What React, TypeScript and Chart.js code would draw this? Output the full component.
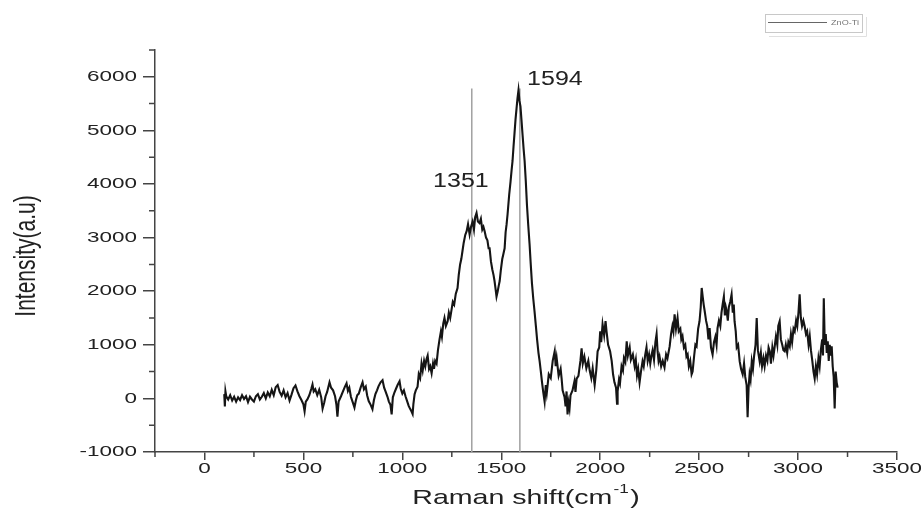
import React, { useEffect, useRef } from 'react';
import { Chart, registerables } from 'chart.js';

Chart.register(...registerables);

const seriesLabel = 'ZnO-Ti';

// Raman spectrum: [Raman shift (cm-1), intensity (a.u.)]
const spectrum: [number, number][] = [
  [100, 80], [103, -150], [106, 130], [110, 40], [120, -20], [130, 60], [140, -40], [150, 30], [160, -60], [170, 20],
  [180, -30], [190, 60], [200, -10], [210, 40], [220, -70], [230, 30], [240, -20], [250, -60], [260, 40], [270, 80],
  [280, -20], [290, 30], [300, 100], [310, 0], [320, 110], [330, 40], [340, 160], [350, 60], [360, 210], [370, 250],
  [380, 120], [390, 50], [400, 150], [410, 20], [420, 100], [430, -40], [440, 70], [450, 190], [460, 240], [470, 130],
  [480, 40], [490, -30], [500, -110], [506, -240], [512, -60], [520, -20], [530, 60], [540, 180], [546, 260], [552, 130],
  [560, 170], [570, 60], [580, 160], [590, 20], [597, -190], [605, -80], [612, 40], [620, 120], [632, 300], [640, 200],
  [650, 150], [660, 40], [667, -120], [672, -340], [678, -60], [690, 40], [700, 130], [710, 220], [718, 280], [725, 140],
  [732, 200], [740, 30], [750, -80], [758, -170], [765, -40], [772, 60], [780, 90], [790, 210], [799, 300], [806, 170],
  [815, 220], [822, 60], [830, -50], [840, -120], [849, -200], [856, -40], [864, 80], [872, 150], [880, 230], [890, 300],
  [900, 340], [908, 200], [916, 120], [925, 30], [932, -60], [940, -120], [946, -300], [952, 20], [960, 110], [968, 180],
  [976, 250], [986, 320], [992, 180], [1000, 90], [1008, 150], [1016, 40], [1025, -60], [1032, -140], [1040, -200], [1046, -240],
  [1052, -290], [1056, -100], [1062, 80], [1068, 150], [1077, 220], [1083, 450], [1090, 380], [1097, 650], [1103, 520], [1110, 700],
  [1116, 600], [1122, 730], [1128, 800], [1135, 550], [1141, 600], [1148, 470], [1155, 650], [1160, 550], [1166, 700], [1173, 650],
  [1180, 900], [1188, 1100], [1195, 1250], [1200, 1150], [1207, 1400], [1213, 1500], [1220, 1350], [1229, 1440], [1235, 1600], [1242, 1500],
  [1249, 1660], [1255, 1800], [1262, 1750], [1270, 1950], [1279, 2060], [1285, 2300], [1292, 2500], [1298, 2600], [1304, 2750], [1310, 2900],
  [1318, 3050], [1325, 3120], [1332, 3250], [1340, 3060], [1347, 3200], [1355, 3300], [1362, 3150], [1368, 3380], [1375, 3460], [1382, 3300],
  [1390, 3270], [1397, 3350], [1404, 3150], [1410, 3200], [1416, 3120], [1423, 3000], [1430, 2950], [1436, 2800], [1441, 2800], [1448, 2550],
  [1455, 2400], [1461, 2300], [1466, 2190], [1471, 2050], [1476, 1900], [1482, 2000], [1487, 2100], [1492, 2190], [1498, 2400], [1505, 2600],
  [1511, 2700], [1517, 2800], [1522, 3100], [1527, 3250], [1532, 3440], [1540, 3800], [1547, 4050], [1552, 4250], [1557, 4430], [1562, 4700],
  [1567, 4950], [1572, 5200], [1577, 5400], [1582, 5600], [1587, 5750], [1592, 5550], [1597, 5450], [1602, 5200], [1608, 4900], [1613, 4650],
  [1618, 4430], [1624, 4050], [1630, 3600], [1636, 3250], [1643, 2880], [1649, 2500], [1655, 2150], [1662, 1850], [1668, 1630], [1675, 1350],
  [1681, 1100], [1688, 850], [1694, 690], [1700, 500], [1706, 300], [1712, 120], [1719, -60], [1725, 250], [1730, 100], [1740, 450],
  [1750, 380], [1760, 700], [1770, 880], [1775, 600], [1780, 750], [1790, 420], [1800, 550], [1805, 370], [1810, 150], [1820, 20],
  [1825, -150], [1830, 130], [1835, -300], [1840, -80], [1845, -190], [1850, 60], [1860, 150], [1870, 320], [1875, 120], [1881, 370],
  [1890, 420], [1900, 700], [1906, 935], [1912, 650], [1920, 780], [1930, 560], [1940, 700], [1947, 520], [1955, 380], [1962, 560],
  [1972, 250], [1980, 520], [1987, 880], [1995, 950], [2000, 1250], [2005, 1050], [2012, 1380], [2020, 1180], [2027, 1440], [2032, 1250],
  [2040, 1000], [2050, 880], [2058, 700], [2065, 450], [2072, 300], [2080, 200], [2085, -100], [2088, 130], [2095, 350], [2100, 280],
  [2108, 600], [2115, 520], [2120, 750], [2127, 680], [2134, 1065], [2140, 800], [2149, 950], [2155, 720], [2165, 820], [2174, 600],
  [2180, 720], [2186, 430], [2192, 550], [2199, 300], [2206, 500], [2214, 690], [2220, 600], [2227, 800], [2234, 950], [2240, 700],
  [2247, 820], [2253, 650], [2259, 800], [2265, 900], [2272, 720], [2279, 1050], [2285, 1200], [2290, 880], [2295, 700], [2300, 780],
  [2308, 600], [2316, 700], [2325, 580], [2333, 820], [2340, 750], [2351, 970], [2358, 1200], [2365, 1350], [2370, 1250], [2376, 1570],
  [2383, 1300], [2391, 1500], [2397, 1250], [2405, 1300], [2410, 1100], [2416, 1160], [2423, 950], [2430, 1000], [2436, 780], [2442, 820],
  [2448, 600], [2455, 700], [2462, 450], [2467, 500], [2475, 800], [2481, 1000], [2487, 970], [2495, 1300], [2502, 1440], [2508, 1700],
  [2513, 2060], [2518, 1900], [2523, 1750], [2528, 1630], [2535, 1450], [2541, 1350], [2547, 1100], [2553, 1310], [2560, 950], [2568, 820],
  [2575, 1050], [2582, 1150], [2588, 1000], [2593, 1310], [2600, 1450], [2607, 1350], [2613, 1600], [2619, 1760], [2625, 1900], [2630, 1550],
  [2635, 1700], [2639, 1630], [2645, 1450], [2650, 1700], [2657, 1800], [2664, 1940], [2670, 1600], [2675, 1750], [2679, 1440], [2685, 1250],
  [2690, 950], [2697, 1000], [2705, 690], [2712, 550], [2720, 450], [2727, 650], [2733, 400], [2740, 250], [2745, -350], [2750, 200],
  [2755, 450], [2760, 350], [2766, 690], [2772, 550], [2778, 800], [2785, 1000], [2791, 1500], [2797, 900], [2806, 690], [2812, 850],
  [2818, 600], [2825, 750], [2831, 600], [2838, 800], [2845, 700], [2851, 950], [2857, 880], [2863, 650], [2870, 950], [2876, 800],
  [2882, 970], [2888, 1150], [2895, 1000], [2900, 1350], [2907, 1440], [2913, 1100], [2920, 1000], [2926, 900], [2932, 880], [2938, 1000],
  [2945, 850], [2951, 1050], [2958, 970], [2964, 1200], [2970, 1050], [2977, 1300], [2983, 1250], [2990, 1450], [2996, 1350], [3002, 1600],
  [3008, 1940], [3014, 1500], [3020, 1350], [3027, 1450], [3033, 1350], [3040, 1200], [3046, 1250], [3053, 1000], [3059, 1160], [3065, 900],
  [3072, 700], [3078, 500], [3084, 370], [3090, 600], [3096, 450], [3103, 750], [3109, 600], [3115, 900], [3122, 1100], [3126, 800],
  [3130, 1870], [3135, 1000], [3140, 1200], [3145, 850], [3150, 1065], [3155, 700], [3160, 1000], [3165, 800], [3170, 970], [3175, 600],
  [3180, 400], [3185, -190], [3190, 500], [3195, 300], [3200, 200],
];

const peakPositions = [1351, 1594];
const peakLabels = ['1351', '1594'];
const peakLineTop = 5780;

const xMin = -250;
const xMax = 3500;
const yMin = -1000;
const yMax = 6500;
const xTickValues = [0, 500, 1000, 1500, 2000, 2500, 3000, 3500];
const yTickValues = [-1000, 0, 1000, 2000, 3000, 4000, 5000, 6000];
const xMinorTicks = [-250, 250, 750, 1250, 1750, 2250, 2750, 3250];
const yMinorTicks = [-500, 500, 1500, 2500, 3500, 4500, 5500, 6500];

const xTitle = 'Raman shift(cm';
const xTitleSup = '-1';
const yTitle = 'Intensity(a.u)';

const FONT = "'Liberation Sans', Arial, Helvetica, sans-serif";

function drawText(
  ctx: CanvasRenderingContext2D,
  text: string,
  x: number,
  y: number,
  size: number,
  sx: number,
  align: CanvasTextAlign,
  color: string,
  rotate = 0,
) {
  ctx.save();
  ctx.translate(x, y);
  ctx.scale(sx, 1);
  if (rotate) ctx.rotate(rotate);
  ctx.font = `${size}px ${FONT}`;
  ctx.textAlign = align;
  ctx.textBaseline = 'middle';
  ctx.fillStyle = color;
  ctx.fillText(text, 0, 0);
  ctx.restore();
}

const decorPlugin = {
  id: 'decor',
  afterDraw(chart: any) {
    const ctx: CanvasRenderingContext2D = chart.ctx;
    const xs = chart.scales.x;
    const ys = chart.scales.y;
    const area = chart.chartArea;

    // minor ticks
    ctx.save();
    ctx.strokeStyle = '#444';
    ctx.lineWidth = 1.5;
    ctx.beginPath();
    xMinorTicks.forEach((v) => {
      const px = xs.getPixelForValue(v);
      ctx.moveTo(px, area.bottom);
      ctx.lineTo(px, area.bottom + 5);
    });
    yMinorTicks.forEach((v) => {
      const py = ys.getPixelForValue(v);
      ctx.moveTo(area.left, py);
      ctx.lineTo(area.left - 6, py);
    });
    ctx.stroke();
    ctx.restore();

    // tick labels
    yTickValues.forEach((v) => {
      drawText(ctx, String(v), area.left - 18, ys.getPixelForValue(v), 15.5, 1.45, 'right', '#222');
    });
    xTickValues.forEach((v) => {
      drawText(ctx, String(v), xs.getPixelForValue(v), area.bottom + 17, 15.5, 1.45, 'center', '#222');
    });

    // axis titles
    drawText(ctx, yTitle, 27, (area.top + area.bottom) / 2 + 5, 21, 1.4, 'center', '#222', -Math.PI / 2);

    ctx.save();
    const size = 21;
    const sx = 1.36;
    ctx.font = `${size}px ${FONT}`;
    const w1 = ctx.measureText(xTitle).width;
    ctx.font = `${size * 0.6}px ${FONT}`;
    const w2 = ctx.measureText(xTitleSup).width;
    ctx.font = `${size}px ${FONT}`;
    const w3 = ctx.measureText(')').width;
    const total = (w1 + w2 + w3 + 2) * sx;
    const cx = (area.left + area.right) / 2;
    const ty = area.bottom + 46;
    ctx.translate(cx - total / 2, ty);
    ctx.scale(sx, 1);
    ctx.fillStyle = '#222';
    ctx.textBaseline = 'middle';
    ctx.textAlign = 'left';
    ctx.font = `${size}px ${FONT}`;
    ctx.fillText(xTitle, 0, 0);
    ctx.font = `${size * 0.6}px ${FONT}`;
    ctx.fillText(xTitleSup, w1 + 1, -8);
    ctx.font = `${size}px ${FONT}`;
    ctx.fillText(')', w1 + w2 + 2, 0);
    ctx.restore();

    // peak labels
    const labelAnchors = [
      { x: 1296, y: 4040 },
      { x: 1771, y: 5950 },
    ];
    peakLabels.forEach((t, i) => {
      drawText(ctx, t, xs.getPixelForValue(labelAnchors[i].x), ys.getPixelForValue(labelAnchors[i].y), 20, 1.25, 'center', '#222');
    });

    // legend box (top right)
    ctx.save();
    ctx.strokeStyle = '#c8c8c8';
    ctx.lineWidth = 1;
    ctx.strokeRect(765.5, 14.5, 97, 18);
    ctx.strokeStyle = '#e0e0e0';
    ctx.beginPath();
    ctx.moveTo(866.5, 17);
    ctx.lineTo(866.5, 36.5);
    ctx.lineTo(769, 36.5);
    ctx.stroke();
    ctx.strokeStyle = '#666';
    ctx.beginPath();
    ctx.moveTo(768, 22.5);
    ctx.lineTo(827, 22.5);
    ctx.stroke();
    ctx.restore();
    drawText(ctx, seriesLabel, 845, 23, 7, 1.3, 'center', '#777');
  },
};

export default function App() {
  const canvasRef = useRef<HTMLCanvasElement | null>(null);

  useEffect(() => {
    document.body.style.margin = '0';
    const canvas = canvasRef.current;
    if (!canvas) return;
    const lineDatasets = peakPositions.map((p) => ({
      label: `peak ${p}`,
      data: [
        { x: p, y: yMin },
        { x: p, y: peakLineTop },
      ],
      borderColor: '#a0a0a0',
      borderWidth: 1.5,
      pointRadius: 0,
      order: 1,
    }));
    const chart = new Chart(canvas, {
      type: 'line',
      data: {
        datasets: [
          {
            label: seriesLabel,
            data: spectrum.map(([x, y]) => ({ x, y })),
            borderColor: '#151515',
            borderWidth: 2.1,
            pointRadius: 0,
            tension: 0,
            order: 0,
          },
          ...lineDatasets,
        ],
      },
      options: {
        responsive: false,
        animation: false,
        layout: { padding: { top: 50, right: 24, left: 0, bottom: 0 } },
        plugins: { legend: { display: false }, tooltip: { enabled: false } },
        scales: {
          x: {
            type: 'linear',
            min: xMin,
            max: xMax,
            afterBuildTicks: (s: any) => {
              s.ticks = xTickValues.map((v) => ({ value: v }));
            },
            afterFit: (s: any) => {
              s.height = 68;
            },
            ticks: { display: false },
            grid: { drawOnChartArea: false, drawTicks: true, tickLength: 8, color: '#444', lineWidth: 1.5 },
            border: { display: true, color: '#444', width: 1.5 },
          },
          y: {
            type: 'linear',
            min: yMin,
            max: yMax,
            afterBuildTicks: (s: any) => {
              s.ticks = yTickValues.map((v) => ({ value: v }));
            },
            afterFit: (s: any) => {
              s.width = 155;
            },
            ticks: { display: false },
            grid: { drawOnChartArea: false, drawTicks: true, tickLength: 12, color: '#444', lineWidth: 1.5 },
            border: { display: true, color: '#444', width: 1.5 },
          },
        },
      } as any,
      plugins: [decorPlugin],
    });
    return () => chart.destroy();
  }, []);

  return (
    <div style={{ width: 921, height: 520 }}>
      <canvas ref={canvasRef} width={921} height={520} style={{ display: 'block' }} />
    </div>
  );
}
